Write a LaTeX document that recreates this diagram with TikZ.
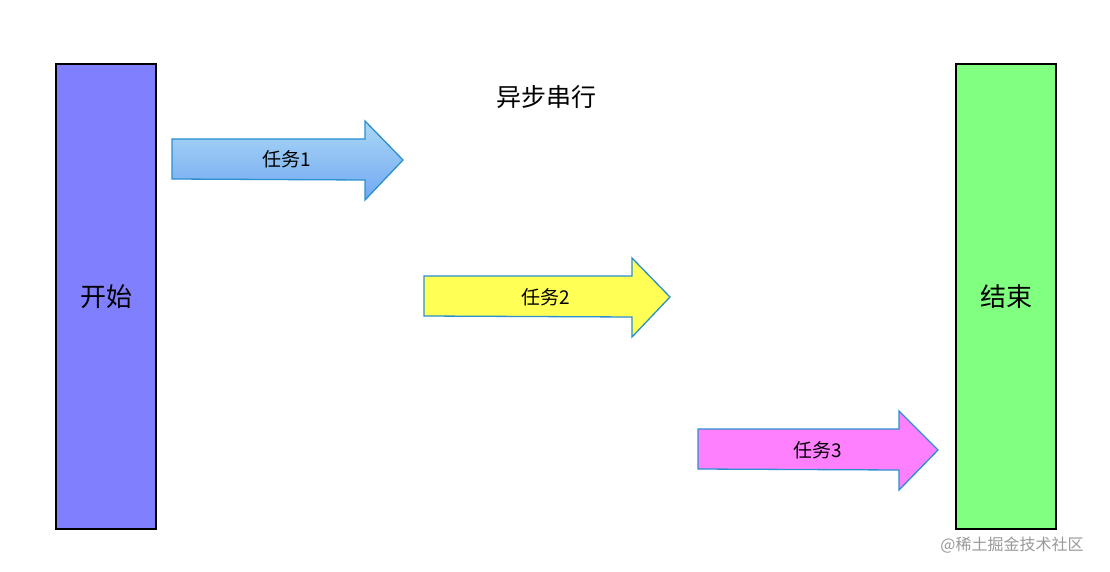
\documentclass[tikz,border=0pt]{standalone}
\usepackage{fontspec}
\setmainfont{Noto Sans CJK SC}
\definecolor{startc}{HTML}{8080FF}
\definecolor{endc}{HTML}{80FF80}
\definecolor{a1}{HTML}{86C6F0}
\definecolor{a2}{HTML}{FFFF55}
\definecolor{a3}{HTML}{FF80FF}
\definecolor{edge}{HTML}{2A90CE}
\begin{document}
\begin{tikzpicture}[x=1pt,y=-1pt,
  bar/.style={draw=black,line width=1.2pt,minimum width=100pt,minimum height=465pt,inner sep=0pt,font=\fontsize{26}{30}\selectfont},
  arr/.style={draw=edge,line width=1.3pt,line join=miter},
  lab/.style={font=\fontsize{19}{22}\selectfont}]
\useasboundingbox (0,0) rectangle (1110,572);
\fill[white] (0,0) rectangle (1110,572);
\node[bar,fill=startc] (start) at (106,296.5) {开始};
\node[bar,fill=endc] (end) at (1006,296.5) {结束};
\node[font=\fontsize{25}{30}\selectfont] (title) at (546,97) {异步串行};
\draw[arr,top color=a1!70!white,bottom color=a1!85!blue] (172,139) -- (365,139) -- (365,121) -- (403,160) -- (365,200) -- (365,180) -- (172,179) -- cycle;
\draw[arr,fill=a2] (424,276) -- (632,276) -- (632,258) -- (670,297) -- (632,337) -- (632,317) -- (424,316) -- cycle;
\draw[arr,fill=a3] (698,429) -- (899,429) -- (899,411) -- (938,450) -- (899,490) -- (899,470) -- (698,469) -- cycle;
\node[lab] (t1) at (287,159) {任务1};
\node[lab] (t2) at (546,297) {任务2};
\node[lab] (t3) at (818,450) {任务3};
\node[font=\fontsize{16}{19}\selectfont,text=black!40] (wm) at (1012,545) {@稀土掘金技术社区};
\end{tikzpicture}
\end{document}
